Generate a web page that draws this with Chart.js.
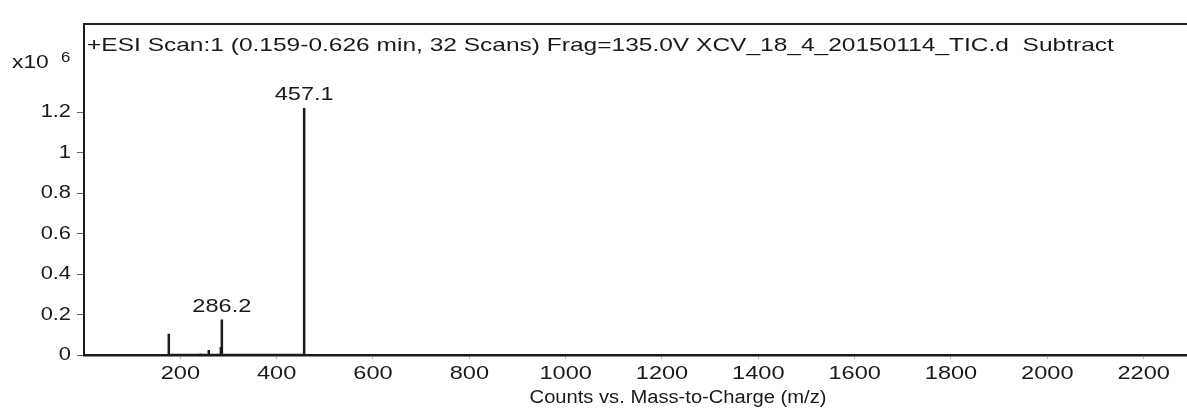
<!DOCTYPE html>
<html>
<head>
<meta charset="utf-8">
<title>ESI Scan</title>
<script src="https://cdn.jsdelivr.net/npm/chart.js@4.4.1/dist/chart.umd.min.js"></script>
<style>
    body { margin: 0; background: #fff; }
    #wrap { width: 1187px; height: 410px; position: relative; }
</style>
</head>
<body>
<div id="wrap"><canvas id="spectrum"></canvas></div>
<script>
// Picos (m/z e contagens em x10^6)
const peakMz = [176.1, 242.2, 259.1, 284.2, 286.2, 457.1];
const peakCounts = [0.105, 0.008, 0.025, 0.04, 0.175, 1.22];

// Picos com rótulo
const labelMz = [286.2, 457.1];

// Ticks dos eixos
const xTicks = [200, 400, 600, 800, 1000, 1200, 1400, 1600, 1800, 2000, 2200];
const yTicks = [0, 0.2, 0.4, 0.6, 0.8, 1, 1.2];

const titleText = "+ESI Scan:1 (0.159-0.626 min, 32 Scans) Frag=135.0V XCV_18_4_20150114_TIC.d  Subtract";
const xTitle = "Counts vs. Mass-to-Charge (m/z)";

const FONT = "'Liberation Sans', Arial, sans-serif";
const STRETCH = 1.24; // o texto do scan original é mais largo que alto

// Cada pico vira uma linha vertical: base -> topo -> base
const stickPoints = [];
peakMz.forEach((mz, i) => {
    stickPoints.push({ x: mz, y: 0 }, { x: mz, y: peakCounts[i] }, { x: mz, y: 0 });
});

// Texto esticado na horizontal
function wideText(ctx, text, x, y, align, sx) {
    ctx.save();
    ctx.translate(x, y);
    ctx.scale(sx, 1);
    ctx.textAlign = align;
    ctx.fillText(text, 0, 0);
    ctx.restore();
}

// Moldura superior, rótulos dos eixos, textos e rótulos dos picos
const annotations = {
    id: 'annotations',
    afterDraw(chart) {
        const ctx = chart.ctx;
        const area = chart.chartArea;
        const xs = chart.scales.x;
        const ys = chart.scales.y;

        ctx.save();
        ctx.strokeStyle = '#222';
        ctx.lineWidth = 2;
        ctx.beginPath();
        ctx.moveTo(area.left, area.top);
        ctx.lineTo(area.right, area.top);
        ctx.stroke();

        ctx.fillStyle = '#1a1a1a';
        ctx.font = '19px ' + FONT;

        // rótulos do eixo y
        ctx.textBaseline = 'middle';
        yTicks.forEach(v => {
            wideText(ctx, String(v), 71, ys.getPixelForValue(v), 'right', 1.15);
        });

        // rótulos do eixo x
        xTicks.forEach(v => {
            wideText(ctx, String(v), xs.getPixelForValue(v), 374, 'center', STRETCH);
        });

        ctx.textBaseline = 'alphabetic';

        // multiplicador do eixo y
        wideText(ctx, 'x10', 12, 68, 'left', 1.2);
        ctx.font = '14px ' + FONT;
        wideText(ctx, '6', 61, 62, 'left', 1.2);

        // título dentro do gráfico
        ctx.font = '19px ' + FONT;
        wideText(ctx, titleText, 87, 51, 'left', 1.29);

        // rótulos dos picos
        labelMz.forEach(mz => {
            const i = peakMz.indexOf(mz);
            const px = xs.getPixelForValue(mz);
            const py = ys.getPixelForValue(peakCounts[i]);
            wideText(ctx, mz.toFixed(1), px, py - 8, 'center', STRETCH);
        });

        // título do eixo x
        ctx.font = '18px ' + FONT;
        wideText(ctx, xTitle, 678, 403, 'center', 1.12);
        ctx.restore();
    }
};

const ctx = document.getElementById('spectrum').getContext('2d');

new Chart(ctx, {
    type: 'line',
    data: {
        datasets: [{
            data: stickPoints,
            borderColor: '#1a1a1a',
            borderWidth: 2.5,
            pointRadius: 0,
            tension: 0,
            fill: false
        }]
    },
    plugins: [annotations],
    options: {
        responsive: true,
        maintainAspectRatio: false,
        animation: false,
        layout: { padding: { top: 24, right: 0, bottom: 0, left: 0 } },
        plugins: {
            legend: { display: false },
            tooltip: { enabled: false }
        },
        scales: {
            x: {
                type: 'linear',
                min: 0,
                max: 2290,
                afterBuildTicks: scale => { scale.ticks = xTicks.map(v => ({ value: v })); },
                afterFit: scale => { scale.height = 55; },
                grid: {
                    drawOnChartArea: false,
                    tickLength: 4,
                    tickColor: '#bbb'
                },
                border: { color: '#1a1a1a', width: 2.5 },
                ticks: { display: false }
            },
            y: {
                min: 0,
                max: 1.635,
                afterBuildTicks: scale => { scale.ticks = yTicks.map(v => ({ value: v })); },
                afterFit: scale => { scale.width = 84; },
                grid: {
                    drawOnChartArea: false,
                    tickLength: 7,
                    tickColor: '#666'
                },
                border: { color: '#1a1a1a', width: 2 },
                ticks: { display: false }
            }
        }
    }
});
</script>
</body>
</html>
